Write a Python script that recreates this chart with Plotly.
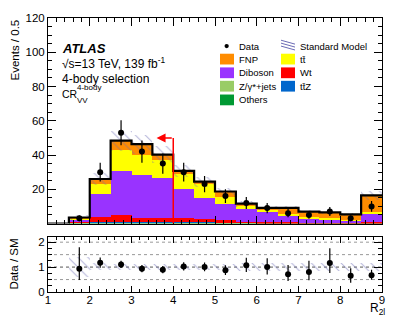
import numpy as np
import plotly.graph_objects as go

# bin centres in R_2l (bin width 0.5), first bin is empty
r2l = [1.25, 1.75, 2.25, 2.75, 3.25, 3.75, 4.25, 4.75, 5.25, 5.75, 6.25, 6.75, 7.25, 7.75, 8.25, 8.75]

others  = [0, 0.2, 0.3, 0.3, 0.3, 0.3, 0.2, 0.2, 0.2, 0.1, 0.1, 0.1, 0.1, 0.1, 0.1, 0.1]
zjets   = [0, 0.2, 0.4, 0.5, 0.5, 0.5, 0.3, 0.3, 0.2, 0.2, 0.1, 0.1, 0.1, 0.1, 0.1, 0.1]
ttz     = [0, 0.0, 0.1, 0.1, 0.1, 0.1, 0.1, 0.1, 0.1, 0.0, 0.0, 0.0, 0.0, 0.0, 0.0, 0.0]
wt      = [0, 0.2, 3.0, 4.1, 2.3, 2.3, 2.4, 1.9, 1.6, 0.7, 0.7, 0.4, 0.2, 0.2, 0.1, 0.7]
diboson = [0, 1.7, 13.2, 25.7, 25.2, 23.1, 17.2, 12.5, 9.5, 7.4, 5.6, 4.0, 2.6, 2.1, 1.3, 5.0]
ttbar   = [0, 0.5, 6.0, 12.0, 11.4, 10.5, 8.6, 8.0, 3.8, 2.3, 1.9, 0.7, 1.0, 0.9, 0.5, 1.0]
fnp     = [0, 0.7, 3.0, 5.7, 6.5, 3.4, 1.9, 1.4, 3.3, 0.9, 0.7, 3.8, 2.9, 3.1, 3.2, 9.5]
sm_unc  = [0, 1.4, 3.6, 5.8, 5.6, 4.8, 3.7, 2.9, 2.2, 1.7, 1.4, 1.4, 1.0, 1.0, 0.8, 2.5]

data     = [None, 3, 30, 53, 42, 35, 30, 23, 16, 12, 9, 6, 5, 7, 3, 10]
data_err = [None, 1.7, 5.5, 7.3, 6.5, 5.9, 5.5, 4.8, 4.0, 3.5, 3.0, 2.4, 2.2, 2.6, 1.7, 3.2]

ratio    = [None, 0.93, 1.17, 1.10, 0.93, 0.89, 1.02, 1.0, 0.87, 1.07, 1.0, 0.71, 0.80, 1.16, 0.65, 0.67]
ratio_up = [None, 0.87, 0.22, 0.15, 0.15, 0.15, 0.17, 0.18, 0.2, 0.3, 0.35, 0.37, 0.45, 0.6, 0.3, 0.22]
ratio_dn = [None, 0.45, 0.2, 0.14, 0.14, 0.14, 0.16, 0.17, 0.19, 0.27, 0.3, 0.27, 0.33, 0.4, 0.28, 0.18]

# stack order bottom -> top
stack = [
    ("Others", others, "#009933"),
    ("Z/γ*+jets", zjets, "#99cc66"),
    ("tt̄Z", ttz, "#0066cc"),
    ("Wt", wt, "#ff0000"),
    ("Diboson", diboson, "#9933ff"),
    ("tt̄", ttbar, "#ffff00"),
    ("FNP", fnp, "#ff8c00"),
]

font = "Liberation Sans, Arial, sans-serif"
hatch = "#6b6bb5"
x = np.array(r2l)
width = 0.5

fig = go.Figure()

base = np.zeros(len(r2l))
for name, vals, col in stack:
    vals = np.array(vals, dtype=float)
    fig.add_trace(go.Bar(x=x, y=vals, base=base.copy(), width=width, name=name,
                         marker=dict(color=col, line=dict(width=0)),
                         showlegend=False, xaxis="x", yaxis="y"))
    base += vals
total = base
unc = np.array(sm_unc)

# SM uncertainty band
pattern = dict(shape="\\", fgcolor=hatch, bgcolor="rgba(0,0,0,0)", size=7,
               solidity=0.15, fillmode="overlay")
fig.add_trace(go.Bar(x=x, y=2 * unc, base=total - unc, width=width,
                     marker=dict(color="rgba(0,0,0,0)", line=dict(width=0), pattern=pattern),
                     showlegend=False, xaxis="x", yaxis="y"))

# total outline
edges = np.append(x - width / 2, x[-1] + width / 2)
fig.add_trace(go.Scatter(x=edges, y=np.append(total, total[-1]), mode="lines",
                         line=dict(color="black", width=2.2, shape="hv"),
                         showlegend=False, xaxis="x", yaxis="y"))

fig.add_trace(go.Scatter(x=x, y=data, mode="markers",
                         marker=dict(color="black", size=6),
                         error_y=dict(type="data", array=data_err, color="black",
                                      thickness=1.2, width=0),
                         showlegend=False, xaxis="x", yaxis="y"))

# ratio panel
rel = np.divide(unc, total, out=np.zeros_like(unc), where=total > 0)
fig.add_trace(go.Bar(x=x[1:], y=2 * rel[1:], base=1 - rel[1:], width=width,
                     marker=dict(color="rgba(0,0,0,0)", line=dict(width=0), pattern=pattern),
                     showlegend=False, xaxis="x2", yaxis="y2"))
fig.add_trace(go.Scatter(x=x, y=ratio, mode="markers",
                         marker=dict(color="black", size=6),
                         error_y=dict(type="data", array=ratio_up, arrayminus=ratio_dn,
                                      color="black", thickness=1.2, width=0),
                         showlegend=False, xaxis="x2", yaxis="y2"))

shapes = []
for yv in [0.5, 1.0, 1.5, 2.0]:
    shapes.append(dict(type="line", xref="x2 domain", yref="y2", x0=0, x1=1, y0=yv, y1=yv,
                       line=dict(color="#555555" if yv == 1.0 else "#999999", width=1,
                                 dash="dot"), layer="below"))

# cut arrow
shapes.append(dict(type="line", xref="x", yref="y", x0=4.0, x1=4.0, y0=0, y1=50,
                   line=dict(color="red", width=1.5)))

# page pixel -> paper helpers (page has an 8px body margin)
def px(v):
    return (v - 48) / 334

def py(v):
    return (292 - v) / 280

annotations = [
    dict(x=3.6, y=50, ax=4.0, ay=50, xref="x", yref="y", axref="x", ayref="y",
         text="", showarrow=True, arrowhead=2, arrowsize=1.2, arrowwidth=1.5, arrowcolor="red"),
]

def label(text, xp, yp, size=12, **kw):
    d = dict(text=text, x=px(xp), y=py(yp), xref="paper", yref="paper",
             xanchor="left", yanchor="middle", showarrow=False,
             font=dict(family=font, size=size, color="black"))
    d.update(kw)
    annotations.append(d)

label("<b><i>ATLAS</i></b>", 60, 43, 13)
label("√s=13 TeV, 139 fb<sup>-1</sup>", 60, 58)
label("4-body selection", 60, 74)
label("CR", 60, 90, 10.5)
label("4-body", 75, 83.5, 8)
label("VV", 75, 96, 8)

# legend
legend_col1 = [("Data", None), ("FNP", "#ff8c00"), ("Diboson", "#9933ff"),
               ("Z/γ*+jets", "#99cc66"), ("Others", "#009933")]
legend_col2 = [("Standard Model", None), ("tt̄", "#ffff00"), ("Wt", "#ff0000"),
               ("tt̄Z", "#0066cc")]
rows = [40.7, 54, 68, 81.7, 95.7]
for i, (name, col) in enumerate(legend_col1):
    yc = rows[i]
    if col is None:
        shapes.append(dict(type="circle", xref="paper", yref="paper",
                           x0=px(224.5), x1=px(228.8), y0=py(yc + 2.2), y1=py(yc - 2.2),
                           fillcolor="black", line=dict(width=0)))
    else:
        shapes.append(dict(type="rect", xref="paper", yref="paper",
                           x0=px(220), x1=px(234), y0=py(yc + 5.5), y1=py(yc - 5.5),
                           fillcolor=col, line=dict(width=0)))
    label(name, 237, yc, 9.5)
for i, (name, col) in enumerate(legend_col2):
    yc = rows[i]
    if col is None:
        for k in range(3):
            shapes.append(dict(type="line", xref="paper", yref="paper",
                               x0=px(281), x1=px(295), y0=py(yc - 6 + 3 * k), y1=py(yc - 2 + 3 * k),
                               line=dict(color=hatch, width=1)))
    else:
        shapes.append(dict(type="rect", xref="paper", yref="paper",
                           x0=px(281), x1=px(295), y0=py(yc + 5.5), y1=py(yc - 5.5),
                           fillcolor=col, line=dict(width=0)))
    label(name, 298, yc, 9.5)

# axis titles
annotations.append(dict(text="Events / 0.5", x=px(14), y=1, xref="paper", yref="paper",
                        xanchor="center", yanchor="top", textangle=-90, showarrow=False,
                        font=dict(family=font, size=11.5, color="black")))
annotations.append(dict(text="Data / SM", x=px(14), y=py(264), xref="paper", yref="paper",
                        xanchor="center", yanchor="middle", textangle=-90, showarrow=False,
                        font=dict(family=font, size=11.5, color="black")))
annotations.append(dict(text="R<sub>2l</sub>", x=px(387), y=py(309), xref="paper", yref="paper",
                        xanchor="right", yanchor="middle", showarrow=False,
                        font=dict(family=font, size=12, color="black")))

axis_common = dict(ticks="inside", tickcolor="black", showline=True, linecolor="black",
                   linewidth=1, mirror="ticks", showgrid=False, zeroline=False,
                   ticklabeloverflow="allow",
                   tickfont=dict(family=font, size=11.5, color="black"))

fig.update_layout(
    width=383, height=312,
    margin=dict(l=40, r=9, t=4, b=28),
    paper_bgcolor="white", plot_bgcolor="white",
    barmode="overlay", bargap=0,
    showlegend=False,
    xaxis=dict(domain=[0, 1], anchor="y", range=[1, 9], dtick=1, tick0=1, ticklen=8,
               showticklabels=False, minor=dict(dtick=0.2, ticklen=4, ticks="inside",
                                                 tickcolor="black"), **axis_common),
    yaxis=dict(domain=[0.25, 1], anchor="x", range=[0, 120],
               tickvals=[20, 40, 60, 80, 100, 120], ticklen=8,
               minor=dict(dtick=5, tick0=0, ticklen=4, ticks="inside", tickcolor="black"),
               **axis_common),
    xaxis2=dict(domain=[0, 1], anchor="y2", range=[1, 9], matches="x", dtick=1, tick0=1,
                ticklen=6, ticklabelstandoff=-3,
                minor=dict(dtick=0.2, ticklen=3, ticks="inside", tickcolor="black"),
                **axis_common),
    yaxis2=dict(domain=[0, 0.2], anchor="x2", range=[0, 2.2], tickvals=[0, 1, 2],
                ticklen=8, minor=dict(dtick=0.25, tick0=0, ticklen=4, ticks="inside",
                                      tickcolor="black"), **axis_common),
    shapes=shapes,
    annotations=annotations,
)

fig.write_html("out.html")
